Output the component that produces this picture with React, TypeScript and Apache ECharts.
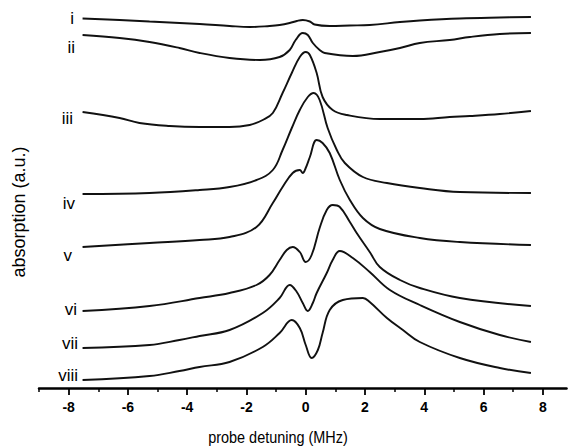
import React, { useEffect, useRef } from "react";
import * as echarts from "echarts";

// x: probe detuning (MHz), y: absorption (a.u., traces stacked with offsets)
const traceNames = ["i", "ii", "iii", "iv", "v", "vi", "vii", "viii"];

const trace_i = [[-7.53,36.95],[-6.28,36.8],[-5.27,36.65],[-3.58,36.4],[-2.57,36.2],[-1.89,36.1],[-1.22,36.2],[-0.88,36.3],[-0.54,36.5],[-0.30,36.7],[-0.10,36.8],[0.14,36.65],[0.30,36.35],[0.81,36.2],[1.49,36.25],[2.16,36.3],[3.18,36.6],[3.85,36.75],[5.20,36.95],[6.55,37.05],[7.60,37.1]];
const trace_ii = [[-7.53,35.3],[-6.28,35.0],[-5.27,34.6],[-4.26,34.0],[-3.58,33.5],[-2.57,33.0],[-1.55,32.8],[-0.88,33.1],[-0.54,33.8],[-0.34,34.8],[-0.10,35.5],[0.07,35.3],[0.24,34.5],[0.47,33.8],[0.64,33.5],[1.59,33.2],[2.50,33.6],[3.18,34.0],[3.85,34.5],[4.86,34.8],[5.54,35.1],[6.55,35.4],[7.60,35.5]];
const trace_iii = [[-7.53,27.6],[-6.28,27.0],[-5.61,26.5],[-4.59,26.2],[-3.58,26.1],[-2.57,26.1],[-1.89,26.3],[-1.45,26.8],[-1.11,27.5],[-0.78,29.5],[-0.47,31.5],[-0.20,33.1],[0,33.6],[0.14,33.3],[0.37,31.5],[0.57,29.1],[0.91,27.8],[1.39,27.3],[2.50,26.9],[3.85,26.9],[4.86,27.1],[5.54,27.2],[6.55,27.4],[7.60,27.7]];
const trace_iv = [[-7.53,19.4],[-5.27,19.5],[-3.58,19.8],[-2.57,20.1],[-1.66,20.8],[-1.11,21.8],[-0.78,23.8],[-0.47,26.0],[-0.20,27.8],[0.07,29.1],[0.27,29.5],[0.47,28.8],[0.74,26.0],[1.05,23.8],[1.32,22.5],[1.93,21.1],[2.74,20.5],[3.85,20.0],[5.20,19.6],[7.60,19.5]];
const trace_v = [[-7.53,14.1],[-5.27,14.5],[-3.58,14.8],[-2.57,15.1],[-1.66,16.1],[-1.11,18.5],[-0.78,20.1],[-0.44,21.5],[-0.20,21.8],[-0.10,21.5],[0,22.0],[0.14,23.1],[0.37,24.8],[0.57,24.5],[0.81,23.5],[1.15,20.8],[1.49,18.8],[1.93,17.0],[2.50,15.9],[3.85,15.0],[5.20,14.6],[7.60,14.3]];
const trace_vi = [[-7.53,7.7],[-5.27,8.2],[-3.58,9.0],[-2.57,9.5],[-1.66,10.3],[-1.22,11.3],[-0.88,12.8],[-0.64,13.8],[-0.44,14.1],[-0.20,13.6],[0,12.6],[0.20,13.3],[0.47,16.0],[0.71,17.8],[0.91,18.3],[1.15,18.1],[1.49,16.6],[1.72,15.5],[2.16,13.6],[2.50,12.1],[3.18,10.8],[3.85,10.0],[5.20,9.0],[7.60,8.2]];
const trace_vii = [[-7.53,4.0],[-5.27,4.3],[-4.26,4.8],[-3.58,5.2],[-2.57,5.8],[-1.45,7.5],[-0.88,9.0],[-0.54,10.3],[-0.30,9.6],[-0.10,8.5],[0.07,7.7],[0.24,8.5],[0.37,9.5],[0.71,11.5],[0.91,12.8],[1.15,13.7],[1.59,13.0],[2.16,11.6],[2.84,9.8],[3.85,8.3],[5.20,6.6],[6.55,5.3],[7.60,4.6]];
const trace_viii = [[-7.53,0.8],[-5.27,1.2],[-4.26,1.7],[-3.58,2.1],[-2.57,2.6],[-1.45,4.1],[-0.88,5.5],[-0.47,6.8],[-0.20,6.0],[0,4.3],[0.20,3.0],[0.41,3.8],[0.57,5.5],[0.81,7.8],[1.25,8.8],[1.93,9.0],[2.16,8.6],[2.74,7.0],[3.28,5.8],[3.85,4.6],[5.20,3.0],[6.55,2.0],[7.60,1.5]];

const traces = [trace_i, trace_ii, trace_iii, trace_iv, trace_v, trace_vi, trace_vii, trace_viii];

const majorTicks = [-8, -6, -4, -2, 0, 2, 4, 6, 8];
const minorTicks = [-9, -7, -5, -3, -1, 1, 3, 5, 7];
const xMin = -9;
const xMax = 8.8;
const yMin = 0;
const yMax = 38.8;
const xTitle = "probe detuning (MHz)";
const yTitle = "absorption (a.u.)";

// label layout: [right x, center y]
const labelLayout = [[74, 18], [75, 47], [73, 118], [75, 203], [72, 255], [77, 309], [78, 343], [78, 375]];

const FONT = "'Liberation Sans', Arial, Helvetica, sans-serif";

export default function App() {
  const ref = useRef<HTMLDivElement>(null);
  useEffect(() => {
    if (!ref.current) return;
    const chart = echarts.init(ref.current, undefined, { renderer: "svg" });
    const option: any = {
      animation: false,
      backgroundColor: "#ffffff",
      grid: { left: 39, right: 2.5, top: 0, bottom: 59, containLabel: false },
      xAxis: [
        {
          type: "value",
          min: xMin,
          max: xMax,
          position: "bottom",
          axisLine: { show: true, onZero: false, lineStyle: { color: "#000", width: 2.5 } },
          axisTick: { show: true, inside: false, length: 7, customValues: majorTicks, lineStyle: { color: "#000", width: 1.8 } },
          axisLabel: {
            show: true,
            customValues: majorTicks,
            margin: 12,
            color: "#000",
            fontSize: 14,
            fontWeight: "bold",
            fontFamily: FONT,
          },
          splitLine: { show: false },
        },
        {
          type: "value",
          min: xMin,
          max: xMax,
          position: "top",
          offset: -388,
          axisLine: { show: false },
          axisTick: { show: true, inside: true, length: 4, customValues: minorTicks, lineStyle: { color: "#000", width: 1.5 } },
          axisLabel: { show: false },
          splitLine: { show: false },
        },
      ],
      yAxis: {
        type: "value",
        min: yMin,
        max: yMax,
        show: false,
        splitLine: { show: false },
      },
      series: traces.map((d, i) => ({
        name: traceNames[i],
        type: "line",
        xAxisIndex: 0,
        data: d,
        smooth: 0.4,
        showSymbol: false,
        symbol: "none",
        lineStyle: { color: "#111", width: 1.9 },
      })),
      graphic: [
        ...traceNames.map((t, i) => ({
          type: "text",
          x: labelLayout[i][0],
          y: labelLayout[i][1],
          style: {
            text: t,
            fill: "#000",
            font: `17px ${FONT}`,
            textAlign: "right",
            textVerticalAlign: "middle",
          },
        })),
        {
          type: "text",
          x: 278,
          y: 437,
          scaleX: 0.85,
          style: { text: xTitle, fill: "#000", font: `17px ${FONT}`, textAlign: "center", textVerticalAlign: "middle" },
        },
        {
          type: "text",
          x: 19,
          y: 212,
          rotation: Math.PI / 2,
          style: { text: yTitle, fill: "#000", font: `18px ${FONT}`, textAlign: "center", textVerticalAlign: "middle" },
        },
      ],
    };
    chart.setOption(option);
    return () => chart.dispose();
  }, []);
  return (
    <div
      ref={ref}
      style={{ position: "fixed", left: 0, top: 0, width: 569, height: 447, background: "#fff" }}
    />
  );
}
